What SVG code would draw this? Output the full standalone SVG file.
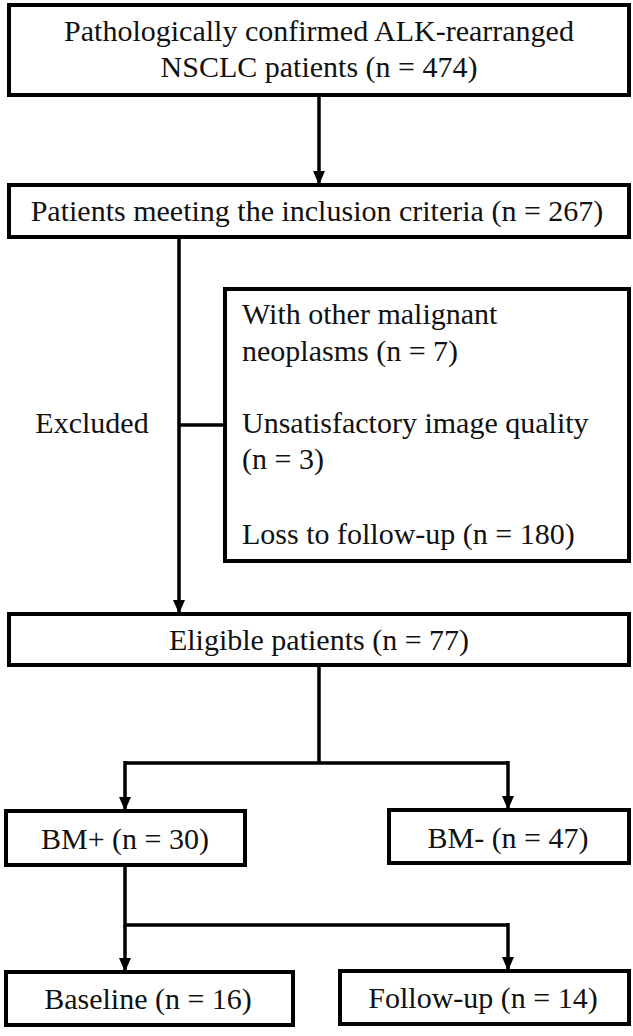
<svg xmlns="http://www.w3.org/2000/svg" width="633" height="1036" viewBox="0 0 633 1036">
<style>
.box{fill:#fff;stroke:#000;stroke-width:4}
.t{font-family:"Liberation Serif","Times New Roman",serif;font-size:30px;fill:#111}
.c{text-anchor:middle}
.ln{fill:none;stroke:#000;stroke-width:3.5}
</style>
<defs>
<marker id="ah" markerUnits="userSpaceOnUse" markerWidth="14" markerHeight="16" refX="14" refY="7" orient="auto" viewBox="0 0 16 14">
<path d="M0,0 L16,7 L0,14 Z" fill="#000"/>
</marker>
</defs>
<g id="connectors">
<path class="ln" d="M319,97 V183" marker-end="url(#ah)"/>
<path class="ln" d="M179,239 V612" marker-end="url(#ah)"/>
<path class="ln" d="M179,425 H225"/>
<path class="ln" d="M319,667 V763 M125,763 H508"/>
<path class="ln" d="M125,761 V809" marker-end="url(#ah)"/>
<path class="ln" d="M508,761 V808" marker-end="url(#ah)"/>
<path class="ln" d="M125,867 V925 H508"/>
<path class="ln" d="M125,925 V970" marker-end="url(#ah)"/>
<path class="ln" d="M508,923 V969" marker-end="url(#ah)"/>
</g>
<g id="n1">
<rect class="box" x="9" y="5" width="620" height="90"/>
<text class="t c" x="319" y="41">Pathologically confirmed ALK-rearranged</text>
<text class="t c" x="319" y="77">NSCLC patients (n = 474)</text>
</g>
<g id="n2">
<rect class="box" x="9" y="185" width="620" height="52"/>
<text class="t c" x="317" y="221">Patients meeting the inclusion criteria (n = 267)</text>
</g>
<g id="excludedLabel">
<text class="t c" x="92" y="433">Excluded</text>
</g>
<g id="n3">
<rect class="box" x="225" y="289" width="404" height="272"/>
<text class="t" x="242" y="324">With other malignant</text>
<text class="t" x="242" y="361">neoplasms (n = 7)</text>
<text class="t" x="242" y="433">Unsatisfactory image quality</text>
<text class="t" x="242" y="469">(n = 3)</text>
<text class="t" x="242" y="544">Loss to follow-up (n = 180)</text>
</g>
<g id="n4">
<rect class="box" x="9" y="614" width="620" height="51"/>
<text class="t c" x="319" y="650">Eligible patients (n = 77)</text>
</g>
<g id="n5">
<rect class="box" x="6" y="811" width="239" height="54"/>
<text class="t c" x="125" y="849">BM+ (n = 30)</text>
</g>
<g id="n6">
<rect class="box" x="389" y="810" width="240" height="53"/>
<text class="t c" x="508" y="848">BM- (n = 47)</text>
</g>
<g id="n7">
<rect class="box" x="6" y="972" width="287" height="53"/>
<text class="t c" x="148" y="1009">Baseline (n = 16)</text>
</g>
<g id="n8">
<rect class="box" x="340" y="971" width="289" height="53"/>
<text class="t c" x="483" y="1008">Follow-up (n = 14)</text>
</g>
</svg>
